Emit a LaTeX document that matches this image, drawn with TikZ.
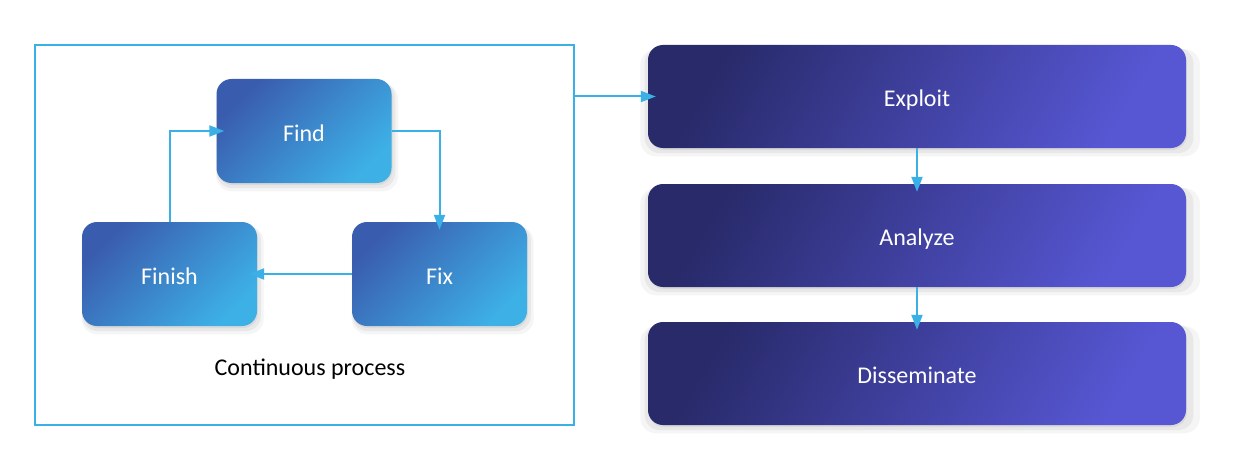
\documentclass[tikz,border=0pt]{standalone}
\usepackage{fontspec}
\setmainfont{Carlito}
\usetikzlibrary{arrows.meta,shadows}
\definecolor{lineblue}{HTML}{3AB0E6}
\definecolor{sA}{HTML}{3A5CAE}
\definecolor{sB}{HTML}{3DB0E6}
\definecolor{bA}{HTML}{282A6A}
\definecolor{bB}{HTML}{5757D4}
\tikzset{
  softshadow/.style={
    drop shadow={shadow xshift=3pt,shadow yshift=-6pt,opacity=0.04,fill=black,shadow scale=1.04},
    drop shadow={shadow xshift=2pt,shadow yshift=-4pt,opacity=0.05,fill=black,shadow scale=1.02},
    drop shadow={shadow xshift=1pt,shadow yshift=-2pt,opacity=0.06,fill=black}},
  boxfont/.style={font=\fontsize{24}{28}\selectfont, text height=20.5pt, text depth=0pt},
  smallbox/.style={softshadow, rounded corners=15pt, minimum width=175pt, minimum height=104pt,
    left color=sA, right color=sB, shading angle=45, text=white, boxfont, inner sep=0pt},
  bigbox/.style={softshadow, rounded corners=15pt, minimum width=538pt, minimum height=103pt,
    left color=bA, right color=bB, shading angle=60, text=white, boxfont, inner sep=0pt},
  frame/.style={draw=lineblue, line width=2pt, minimum width=539pt, minimum height=380pt, inner sep=0pt},
  conn/.style={draw=lineblue, line width=2pt, shorten >=-8pt, -{Triangle[length=15pt,width=11pt]}}
}
\begin{document}
\begin{tikzpicture}[x=1pt,y=-1pt]
\useasboundingbox[fill=white] (0,0) rectangle (1236,476);
\node[frame] (frm) at (304.5,235) {};
\node[smallbox] (find) at (304,131) {Find};
\node[smallbox] (finish) at (169.5,274) {Finish};
\node[smallbox] (fix) at (439.5,274) {Fix};
\node[boxfont] (cp) at (310,365) {Continuous process};
\node[bigbox] (exploit) at (917,96.5) {Exploit};
\node[bigbox] (analyze) at (917,235.5) {Analyze};
\node[bigbox] (dissem) at (917,373.5) {Disseminate};
\draw[conn] (finish.north) |- (find.west);
\draw[conn] (find.east) -| (fix.north);
\draw[conn] (fix.west) -- (finish.east);
\draw[conn] (frm.east |- exploit.west) -- (exploit.west);
\draw[conn] (exploit.south) -- (analyze.north);
\draw[conn] (analyze.south) -- (dissem.north);
\end{tikzpicture}
\end{document}
